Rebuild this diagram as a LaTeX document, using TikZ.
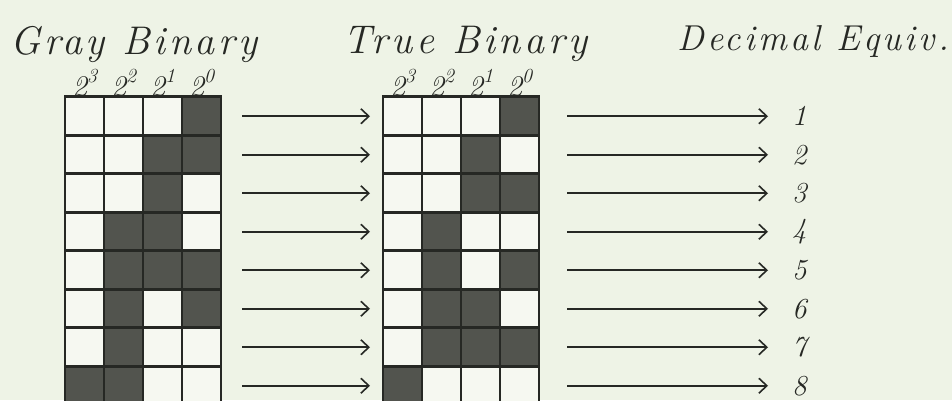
\documentclass[tikz,border=0pt]{standalone}
\usepackage{fontspec}
\usetikzlibrary{arrows.meta,positioning}
\newfontfamily\hand{Latin Modern Roman}[LetterSpace=9]
\definecolor{paper}{RGB}{238,243,230}
\definecolor{ink}{RGB}{38,40,36}
\definecolor{shade}{RGB}{82,84,78}
\colorlet{cell0}{paper!55!white}
\colorlet{cell1}{shade}
\newcommand{\pv}[1]{2\raisebox{.45em}{\fontsize{20}{20}\selectfont#1}}
\tikzset{
  cell/.style={draw=ink, line width=2.6pt, minimum size=39pt, inner sep=0pt, outer sep=0pt},
  conv/.style={-{Straight Barb[length=8pt,width=15pt,line width=1.6pt]}, ink, line width=1.6pt},
  ttl/.style={font=\fontsize{40}{44}\selectfont\hand\itshape, text=ink, anchor=base west, inner sep=0pt},
  pw/.style={font=\fontsize{30}{32}\selectfont\itshape, text=ink, anchor=base, inner sep=0pt},
  dec/.style={font=\fontsize{29}{30}\selectfont\itshape, text=ink, anchor=west, inner sep=0pt},
}

\begin{document}
\begin{tikzpicture}[x=1pt, y=-1pt]
  \def\gx{65} \def\tx{383} \def\ytop{97} \def\rh{38.5}
  \useasboundingbox (0,0) rectangle (952,400);
  \fill[paper] (0,0) rectangle (952,400);
  \clip (0,0) rectangle (952,400);
  % headings
  \node[ttl] (gt) at (10,54) {Gray Binary};
  \node[ttl] (tt) at (343,53) {True Binary};
  \node[ttl, font=\fontsize{36}{40}\selectfont\hand\itshape] (dt) at (677,50) {Decimal Equiv.};
  % place values
  \foreach \c/\p in {1/3,2/2,3/1,4/0} {
    \node[pw] (gp\c) at ({\gx+(\c-0.5)*39}, 96) {\pv{\p}};
    \node[pw] (tp\c) at ({\tx+(\c-0.5)*39}, 96) {\pv{\p}};
  }
  % the two code tables
  \foreach \r/\gb/\tb in {1/{0,0,0,1}/{0,0,0,1}, 2/{0,0,1,1}/{0,0,1,0},
                          3/{0,0,1,0}/{0,0,1,1}, 4/{0,1,1,0}/{0,1,0,0},
                          5/{0,1,1,1}/{0,1,0,1}, 6/{0,1,0,1}/{0,1,1,0},
                          7/{0,1,0,0}/{0,1,1,1}, 8/{1,1,0,0}/{1,0,0,0}} {
    \foreach \v [count=\c] in \gb
      \node[cell, fill=cell\v] (g\r\c) at ({\gx+(\c-0.5)*39}, {\ytop+(\r-0.5)*\rh}) {};
    \foreach \v [count=\c] in \tb
      \node[cell, fill=cell\v] (t\r\c) at ({\tx+(\c-0.5)*39}, {\ytop+(\r-0.5)*\rh}) {};
  }
  % conversions
  \foreach \r in {1,...,8} {
    \node[dec] (d\r) at (792, {\ytop+(\r-0.5)*\rh}) {\r};
    \draw[conv] ([xshift=21pt]g\r4.east) -- ([xshift=-13pt]t\r1.west);
    \draw[conv] ([xshift=28pt]t\r4.east) -- ([xshift=-24pt]d\r.west);
  }
\end{tikzpicture}
\end{document}
